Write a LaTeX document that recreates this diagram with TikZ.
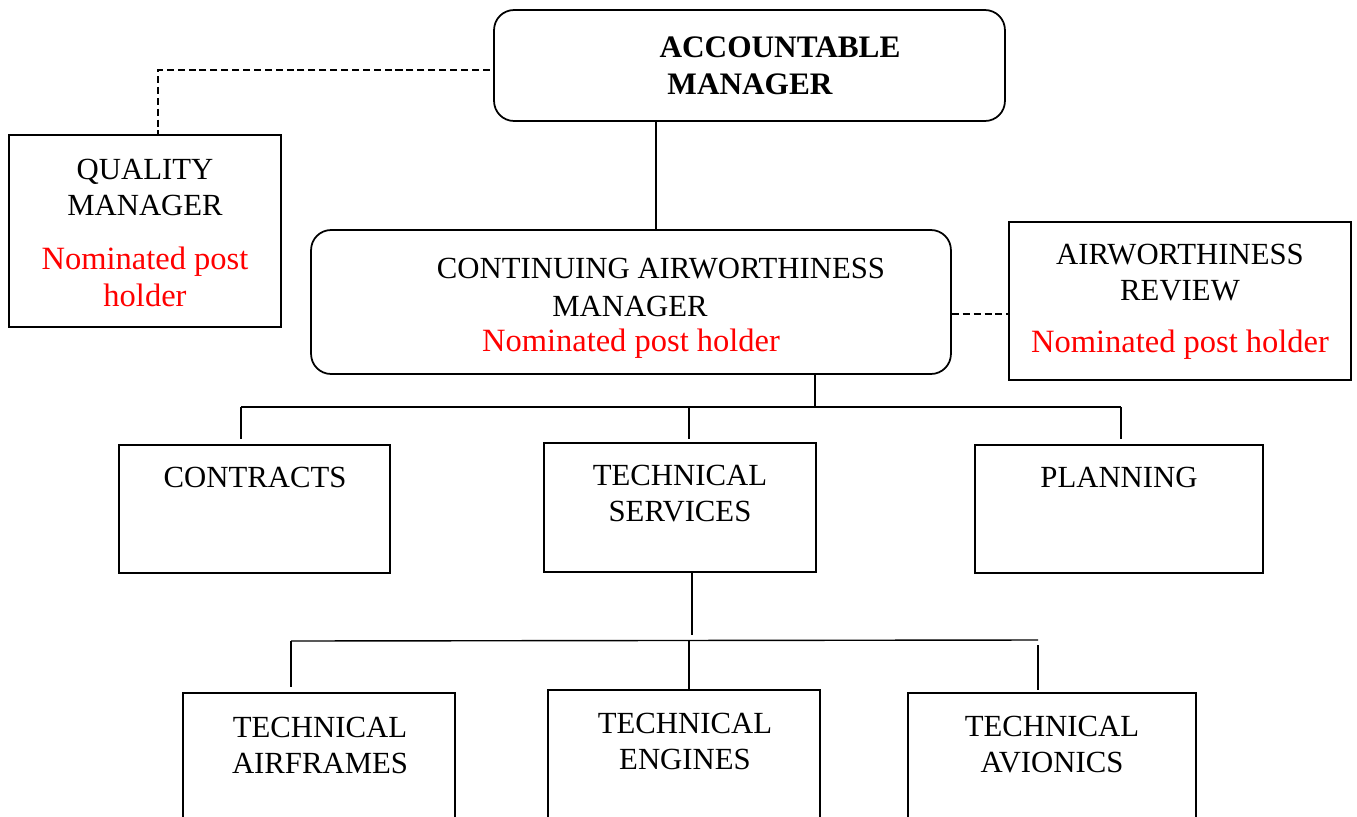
\documentclass[tikz,border=0pt]{standalone}
\usepackage{fontspec}
\setmainfont{Liberation Serif}
\usepackage{tikz}
\usetikzlibrary{positioning}

\begin{document}
\begin{tikzpicture}[x=0.02cm, y=-0.02cm]
    \tikzstyle{box} = [draw, line width=1pt, inner sep=0pt]
    \tikzstyle{rbox} = [box, rounded corners=0.4cm]
    \tikzstyle{txt} = [inner sep=0pt, align=center, font=\fontsize{17.5}{20.5}\selectfont]
    \tikzstyle{boldtxt} = [txt, font=\fontsize{17.8}{20.5}\selectfont\bfseries]
    \tikzstyle{nph} = [txt, red, font=\fontsize{18.5}{21}\selectfont]
    \tikzstyle{link} = [line width=0.8pt]
    \tikzstyle{dlink} = [line width=0.8pt, dash pattern=on 4pt off 2.2pt]

    \useasboundingbox (0,0) rectangle (1357,816);
    \clip (0,0) rectangle (1357,816);

    % Top level
    \node[rbox, minimum width=10.22cm, minimum height=2.22cm] (acc) at (749.5,65.5) {};
    \node[boldtxt] (acct1) at (780,47) {ACCOUNTABLE};
    \node[boldtxt] (acct2) at (750,84) {MANAGER};

    % Quality manager (dashed to the left)
    \node[box, minimum width=5.44cm, minimum height=3.84cm] (qm) at (145,231) {};
    \node[txt] (qmt) at (145,187) {QUALITY\\MANAGER};
    \node[nph] (qmn) at (145,277) {Nominated post\\holder};

    % Continuing airworthiness manager
    \node[rbox, minimum width=12.8cm, minimum height=2.88cm] (cam) at (631,302) {};
    \node[txt] (camt1) at (661,269) {CONTINUING AIRWORTHINESS};
    \node[txt] (camt2) at (630,306) {MANAGER};
    \node[nph] (camn) at (631,344) {Nominated post holder};

    % Airworthiness review (dashed to the right)
    \node[box, minimum width=6.84cm, minimum height=3.16cm] (ar) at (1180,301) {};
    \node[txt] (art) at (1180,273) {AIRWORTHINESS\\REVIEW};
    \node[nph] (arn) at (1180,345) {Nominated post holder};

    % Second row
    \node[box, minimum width=5.42cm, minimum height=2.56cm] (contracts) at (254.5,509) {};
    \node[txt] (contractst) at (255,477) {CONTRACTS};
    \node[box, minimum width=5.44cm, minimum height=2.58cm] (ts) at (680,507.5) {};
    \node[txt] (tst) at (680,494) {TECHNICAL\\SERVICES};
    \node[box, minimum width=5.76cm, minimum height=2.56cm] (planning) at (1119,509) {};
    \node[txt] (planningt) at (1119,477) {PLANNING};

    % Third row (runs off the page)
    \node[box, minimum width=5.44cm, minimum height=4.14cm] (airframes) at (319,796.5) {};
    \node[txt] (airframest) at (320,745) {TECHNICAL\\AIRFRAMES};
    \node[box, minimum width=5.44cm, minimum height=4.14cm] (engines) at (684,793.5) {};
    \node[txt] (enginest) at (685,741) {TECHNICAL\\ENGINES};
    \node[box, minimum width=5.76cm, minimum height=4.14cm] (avionics) at (1052,796.5) {};
    \node[txt] (avionicst) at (1052,745) {TECHNICAL\\AVIONICS};

    % Bus points
    \coordinate (amdrop) at (656,0);
    \coordinate (qmcorner) at (158,70);
    \coordinate (bus1) at (815,407);
    \coordinate (bus1l) at (241,407);
    \coordinate (bus1m) at (689,407);
    \coordinate (bus1r) at (1121,407);
    \coordinate (bus2) at (692,640);
    \coordinate (bus2l) at (291,641);
    \coordinate (bus2m) at (689,641);
    \coordinate (bus2r) at (1038,640);

    % Connectors
    \draw[link] (acc.south -| amdrop) -- (cam.north -| amdrop);
    \draw[dlink] ([xshift=-2pt]acc.west |- qmcorner) -- (qmcorner) -- (qm.north -| qmcorner);
    \draw[dlink] (cam.east |- 0,314) -- (ar.west |- 0,314);

    \draw[link] (cam.south -| bus1) -- (bus1);
    \draw[link] (bus1l) -- (bus1r);
    \draw[link, shorten >=3pt] (bus1l) -- (bus1l |- contracts.north);
    \draw[link, shorten >=2pt] (bus1m) -- (bus1m |- ts.north);
    \draw[link, shorten >=3pt] (bus1r) -- (bus1r |- planning.north);

    \draw[link, shorten >=3pt] (ts.south -| bus2) -- (bus2);
    \draw[link] (bus2l) -- (bus2r);
    \draw[link, shorten >=3pt] (bus2l) -- (bus2l |- airframes.north);
    \draw[link] (bus2m) -- (bus2m |- engines.north);
    \draw[link, shorten <=3pt, shorten >=1pt] (bus2r) -- (bus2r |- avionics.north);
\end{tikzpicture}
\end{document}
